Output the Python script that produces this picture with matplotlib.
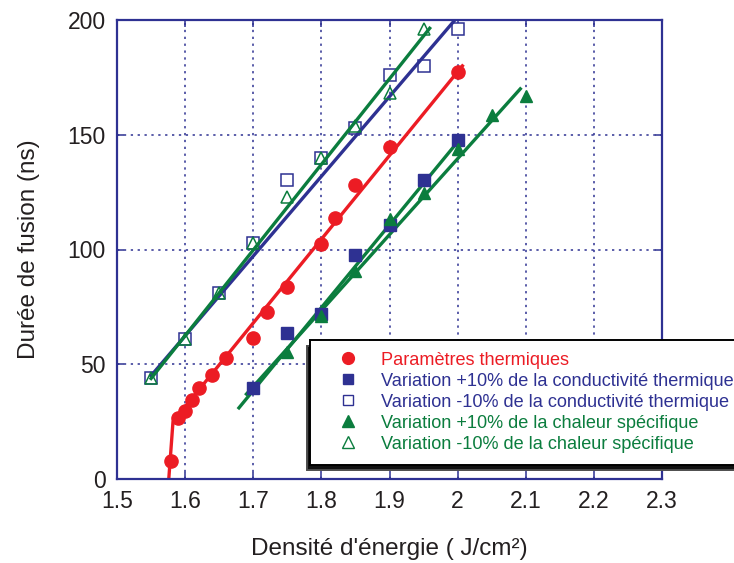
import matplotlib
matplotlib.use('Agg')
import matplotlib.pyplot as plt
from matplotlib.lines import Line2D

plt.rcParams['font.family'] = ['Liberation Sans', 'DejaVu Sans']

ROUGE = '#ec1c24'
BLEU = '#2e3192'
VERT = '#0b7d3e'
NOIR = '#231f20'

# points mesurés
x_ref = [1.579, 1.590, 1.600, 1.610, 1.620, 1.640, 1.660, 1.700, 1.720, 1.750, 1.800, 1.820, 1.850, 1.900, 2.000]
y_ref = [8, 26.5, 29.6, 34.5, 39.6, 45.4, 52.7, 61.4, 72.6, 83.5, 102.5, 113.7, 128.2, 144.7, 177.4]

x_cond_plus = [1.70, 1.75, 1.80, 1.85, 1.90, 1.95, 2.00]
y_cond_plus = [39.6, 63.6, 71.9, 97.8, 110.8, 130.1, 147.9]

x_cond_moins = [1.55, 1.60, 1.65, 1.70, 1.75, 1.80, 1.85, 1.90, 1.95, 2.00]
y_cond_moins = [43.8, 61.0, 81.1, 102.9, 130.1, 140.0, 153.0, 176.0, 180.0, 196.1]

x_chal_plus = [1.75, 1.80, 1.85, 1.90, 1.95, 2.00, 2.05, 2.10]
y_chal_plus = [55.2, 71.2, 90.8, 113.4, 124.8, 143.7, 158.8, 166.8]

x_chal_moins = [1.55, 1.60, 1.65, 1.70, 1.75, 1.80, 1.85, 1.90, 1.95]
y_chal_moins = [43.8, 61.0, 81.1, 102.9, 122.8, 140.0, 153.7, 168.0, 196.0]

# droites d'ajustement
fit_ref_x = [1.5755, 1.5822, 2.007]
fit_ref_y = [-2, 25, 180]
fit_cond_moins_x = [1.55, 1.996]
fit_cond_moins_y = [45, 200]
fit_chal_moins_x = [1.55, 1.959]
fit_chal_moins_y = [43.8, 196.4]
fit_cond_plus_x = [1.679, 2.004]
fit_cond_plus_y = [31, 148.3]
fit_chal_plus_x = [1.69, 2.092]
fit_chal_plus_y = [37, 170]

xticks = [1.5, 1.6, 1.7, 1.8, 1.9, 2.0, 2.1, 2.2, 2.3]
xticklabels = ['1.5', '1.6', '1.7', '1.8', '1.9', '2', '2.1', '2.2', '2.3']
yticks = [0, 50, 100, 150, 200]

fig = plt.figure(figsize=(7.34, 5.63), dpi=100)
ax = fig.add_axes([117/734, 1-479/563, (662-117)/734, (479-20)/563])

lw = 2.4
ax.plot(fit_ref_x, fit_ref_y, color=ROUGE, lw=lw)
ax.plot(fit_cond_moins_x, fit_cond_moins_y, color=BLEU, lw=lw)
ax.plot(fit_chal_moins_x, fit_chal_moins_y, color=VERT, lw=lw)
ax.plot(fit_cond_plus_x, fit_cond_plus_y, color=VERT, lw=lw)
ax.plot(fit_chal_plus_x, fit_chal_plus_y, color=VERT, lw=lw)

ax.plot(x_ref, y_ref, 'o', color=ROUGE, ms=9.5, mec=ROUGE)
ax.plot(x_cond_plus, y_cond_plus, 's', color=BLEU, ms=8)
ax.plot(x_cond_moins, y_cond_moins, 's', mfc='white', mec=BLEU, mew=1.1, ms=8, zorder=1.9)
ax.plot(x_chal_plus, y_chal_plus, '^', color=VERT, ms=9)
ax.plot(x_chal_moins, y_chal_moins, '^', mfc='none', mec=VERT, mew=1.1, ms=9)

ax.set_xlim(1.5, 2.3)
ax.set_ylim(0, 200)
ax.set_xticks(xticks)
ax.set_xticklabels(xticklabels)
ax.set_yticks(yticks)
ax.grid(True, color=BLEU, ls=(0, (1.5, 3)), lw=1.1)
ax.set_axisbelow(True)
for s in ax.spines.values():
    s.set_color(BLEU)
    s.set_linewidth(1.6)
ax.tick_params(direction='in', length=5, width=1.1, color=BLEU, top=True, right=True,
               labelsize=16.5, labelcolor=NOIR, pad=8)
ax.set_xlabel("Densité d'énergie ( J/cm²)", fontsize=17.5, color=NOIR, labelpad=18)
ax.set_ylabel('Durée de fusion (ns)', fontsize=17.5, color=NOIR, labelpad=20)

handles = [
    Line2D([], [], ls='none', marker='o', color=ROUGE, ms=8.5),
    Line2D([], [], ls='none', marker='s', color=BLEU, ms=7.5),
    Line2D([], [], ls='none', marker='s', mfc='white', mec=BLEU, ms=7.5),
    Line2D([], [], ls='none', marker='^', color=VERT, ms=8),
    Line2D([], [], ls='none', marker='^', mfc='white', mec=VERT, ms=8),
]
labels = ['Paramètres thermiques',
          'Variation +10% de la conductivité thermique',
          'Variation -10% de la conductivité thermique',
          'Variation +10% de la chaleur spécifique',
          'Variation -10% de la chaleur spécifique']
couleurs = [ROUGE, BLEU, BLEU, VERT, VERT]

leg = fig.legend(handles, labels, loc='upper left', bbox_to_anchor=(310/734, 1-340/563),
                 bbox_transform=fig.transFigure, fontsize=13.1, frameon=True, fancybox=False,
                 edgecolor='black', framealpha=1, borderpad=0.65, labelspacing=0.22,
                 handlelength=2.9, handletextpad=0.35, borderaxespad=0,
                 shadow={'ox': -2, 'oy': -4, 'facecolor': '#111111', 'alpha': 1})
leg.get_frame().set_linewidth(1.4)
for t, c in zip(leg.get_texts(), couleurs):
    t.set_color(c)

fig.savefig('out.png', dpi=100)
